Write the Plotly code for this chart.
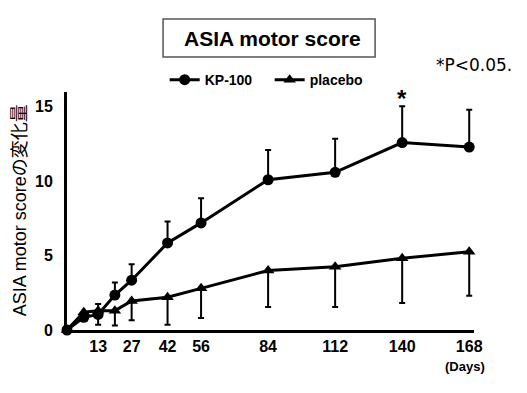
import plotly.graph_objects as go

days = [0, 7, 13, 20, 27, 42, 56, 84, 112, 140, 168]
kp100 = [0, 0.85, 1.05, 2.35, 3.35, 5.85, 7.2, 10.1, 10.6, 12.6, 12.3]
kp100_err_up = [0, 0, 0.7, 0.85, 1.07, 1.45, 1.65, 2.0, 2.25, 2.45, 2.5]
placebo = [0, 1.2, 1.3, 1.3, 1.95, 2.2, 2.8, 4.0, 4.25, 4.82, 5.26]
placebo_err_down = [0, 0, 0.95, 1.0, 1.3, 1.85, 2.0, 2.45, 2.7, 3.0, 2.95]

x_ticks = [13, 27, 42, 56, 84, 112, 140, 168]
y_ticks = [0, 5, 10, 15]

fig = go.Figure()
fig.add_trace(go.Scatter(
    x=days, y=kp100, name="KP-100", mode="lines+markers",
    line=dict(color="black", width=3),
    marker=dict(symbol="circle", size=11, color="black"),
    error_y=dict(type="data", symmetric=False, array=kp100_err_up,
                 arrayminus=[0] * len(days), color="black", thickness=2, width=3),
    cliponaxis=False,
))
fig.add_trace(go.Scatter(
    x=days, y=placebo, name="placebo", mode="lines+markers",
    line=dict(color="black", width=3),
    marker=dict(symbol="triangle-up", size=11, color="black"),
    error_y=dict(type="data", symmetric=False, array=[0] * len(days),
                 arrayminus=placebo_err_down, color="black", thickness=2, width=3),
    cliponaxis=False,
))

fig.update_layout(
    width=519, height=385,
    margin=dict(l=59, r=53, t=84, b=63),
    paper_bgcolor="white", plot_bgcolor="white",
    font=dict(family="Liberation Sans, Arial, sans-serif", color="black"),
    showlegend=True,
    legend=dict(orientation="h", x=0.24, xanchor="left", y=1.05, yanchor="middle",
                font=dict(size=14, family="Liberation Sans", weight="bold"),
                bgcolor="rgba(0,0,0,0)", entrywidth=60, entrywidthmode="pixels",
                itemwidth=30),
    xaxis=dict(range=[0, 170], tickvals=x_ticks, ticktext=[str(t) for t in x_ticks],
               showline=True, linecolor="black", linewidth=3, showgrid=False,
               zeroline=False, ticks="", tickfont=dict(size=16, weight="bold")),
    yaxis=dict(range=[0, 16], tickvals=y_ticks, showline=True, linecolor="black",
               linewidth=3, showgrid=False, zeroline=False, ticks="",
               ticklabelstandoff=8, tickfont=dict(size=16, weight="bold")),
    shapes=[dict(type="rect", xref="paper", yref="paper",
                 x0=0.236, x1=0.757, y0=1.147, y1=1.307,
                 line=dict(color="#555555", width=1.5))],
    annotations=[
        dict(text="ASIA motor score", xref="paper", yref="paper", x=0.505, y=1.223,
             xanchor="center", yanchor="middle", showarrow=False,
             font=dict(size=21, family="Liberation Sans", weight="bold")),
        dict(text="*P<0.05.", xref="paper", yref="paper", x=1.0, y=1.113,
             xanchor="center", yanchor="middle", showarrow=False,
             font=dict(size=17, family="DejaVu Sans")),
        dict(text="ASIA motor scoreの変化量", xref="paper", yref="paper", x=-0.115, y=0.504,
             xanchor="center", yanchor="middle", textangle=-90, showarrow=False,
             font=dict(size=18, family="Liberation Sans, Noto Sans CJK JP")),
        dict(text="(Days)", xref="paper", yref="paper", x=0.977, y=-0.155,
             xanchor="center", yanchor="middle", showarrow=False,
             font=dict(size=13, family="Liberation Sans", weight="bold")),
        dict(text="*", xref="x", yref="y", x=140, y=15.1, yshift=-9,
             xanchor="center", yanchor="bottom", showarrow=False,
             font=dict(size=24, family="Liberation Sans", weight="bold")),
    ],
)

fig.write_html("out.html")
